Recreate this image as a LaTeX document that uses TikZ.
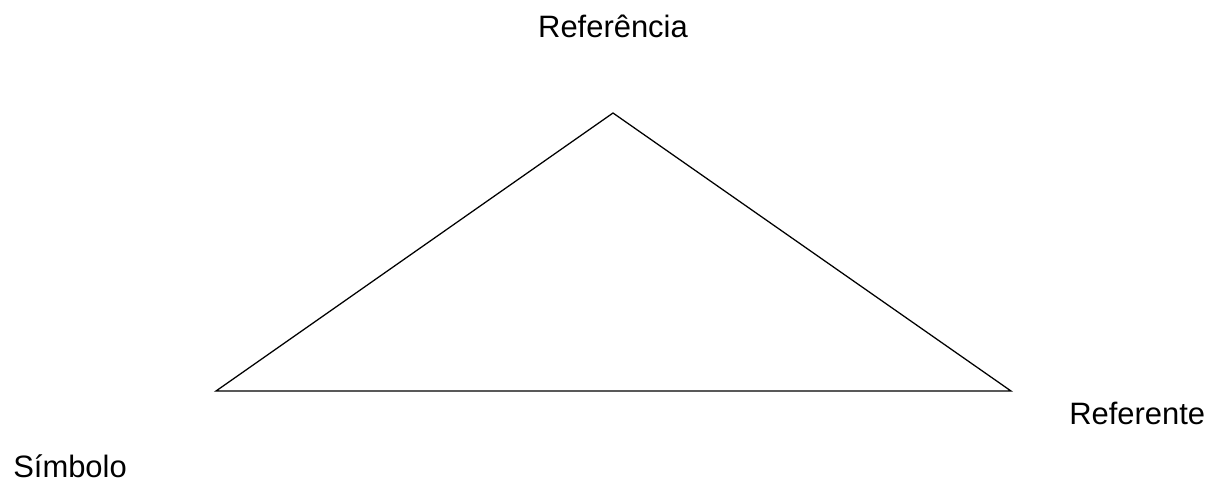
\documentclass[tikz,border=0pt]{standalone}
\usepackage{fontspec}
\setmainfont{Liberation Sans}
\begin{document}
\begin{tikzpicture}[x=0.025cm,y=-0.025cm,
  lbl/.style={inner sep=0pt,font=\fontsize{22}{26}\selectfont},
  edge/.style={line width=0.9pt,line join=miter}]
\useasboundingbox (0,0) rectangle (1209,481);
\coordinate (top) at (613,113);
\coordinate (left) at (216,391);
\coordinate (right) at (1011,391);
\draw[edge] (left) -- (top) -- (right) -- cycle;
\node[lbl,anchor=base] (ref) at (613,37.5) {Referência};
\node[lbl,anchor=base west] (rfte) at (1069,424) {Referente};
\node[lbl,anchor=base west] (sim) at (13,477) {Símbolo};
\end{tikzpicture}
\end{document}
